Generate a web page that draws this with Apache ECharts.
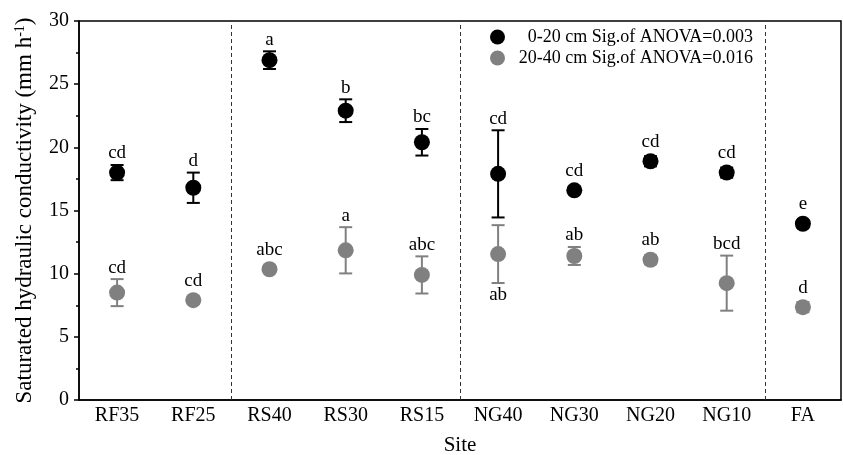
<!DOCTYPE html>
<html>
<head>
<meta charset="utf-8">
<script src="https://cdn.jsdelivr.net/npm/echarts@6/dist/echarts.min.js"></script>
<style>
  html, body { margin: 0; padding: 0; background: #fff; }
  #main { width: 843px; height: 455px; }
</style>
</head>
<body>
<div id="main"></div>
<script>
"use strict";

// sites along the x axis
var sites = ['RF35', 'RF25', 'RS40', 'RS30', 'RS15', 'NG40', 'NG30', 'NG20', 'NG10', 'FA'];
// first site of each new group (dashed separators go before these)
var groupStarts = ['RS40', 'NG40', 'FA'];

var seriesNames = ['0-20 cm Sig.of ANOVA=0.003', '20-40 cm Sig.of ANOVA=0.016'];

// 0-20 cm layer
var topMean = [18.0, 16.8, 26.9, 22.9, 20.4, 17.9, 16.6, 18.9, 18.0, 13.95];
var topErr = [0.6, 1.2, 0.7, 0.9, 1.05, 3.45, 0.3, 0.4, 0.4, 0.3];
var topLetters = ['cd', 'd', 'a', 'b', 'bc', 'cd', 'cd', 'cd', 'cd', 'e'];

// 20-40 cm layer
var subMean = [8.5, 7.9, 10.35, 11.85, 9.9, 11.55, 11.4, 11.1, 9.25, 7.35];
var subErr = [1.07, 0.3, 0.3, 1.83, 1.47, 2.29, 0.71, 0.35, 2.18, 0.4];
var subLetters = ['cd', 'cd', 'abc', 'a', 'abc', 'ab', 'ab', 'ab', 'bcd', 'd'];

var yMin = 0, yMax = 30, yStep = 5;

var FONT = '"Liberation Serif", "Times New Roman", serif';
var BLACK = '#000000';
var GREY = '#808080';

var myChart = echarts.init(document.getElementById('main'));

// error bar + significance letter for each point
function errorBars(means, errs, letters, color, lettersBelow) {
    return {
        type: 'custom',
        xAxisIndex: 2,
        z: 1,
        silent: true,
        data: means.map(function (m, i) { return [i, m, errs[i]]; }),
        renderItem: function (params, api) {
            var i = api.value(0), m = api.value(1), e = api.value(2);
            var c = api.coord([i, m]);
            var hi = api.coord([i, m + e]);
            var lo = api.coord([i, m - e]);
            var half = 6.5;
            var st = { stroke: color, lineWidth: 2 };
            var below = lettersBelow.indexOf(sites[i]) >= 0;
            var ty = below ? Math.max(lo[1], c[1] + 8) + 3 : Math.min(hi[1], c[1] - 8) - 2;
            return {
                type: 'group',
                children: [
                    { type: 'line', shape: { x1: c[0], y1: hi[1], x2: c[0], y2: lo[1] }, style: st },
                    { type: 'line', shape: { x1: c[0] - half, y1: hi[1], x2: c[0] + half, y2: hi[1] }, style: st },
                    { type: 'line', shape: { x1: c[0] - half, y1: lo[1], x2: c[0] + half, y2: lo[1] }, style: st },
                    {
                        type: 'text', x: c[0], y: ty,
                        style: {
                            text: letters[i], fill: '#000', fontFamily: FONT, fontSize: 19,
                            align: 'center', verticalAlign: below ? 'top' : 'bottom'
                        }
                    }
                ]
            };
        }
    };
}

var option = {
    animation: false,
    backgroundColor: '#fff',
    grid: {
        left: 79, right: 2, top: 21, bottom: 55,
        outerBoundsMode: 'none',
        containLabel: false,
        show: true, borderColor: '#000', borderWidth: 1.5, backgroundColor: 'transparent'
    },
    legend: {
        data: seriesNames,
        orient: 'vertical',
        left: 485, top: 23,
        itemWidth: 15, itemHeight: 15, itemGap: 3,
        icon: 'circle',
        formatter: function (name) { return '{t|' + name + '}'; },
        textStyle: {
            fontFamily: FONT, fontSize: 18, color: '#000',
            rich: { t: { fontFamily: FONT, fontSize: 18, color: '#000', width: 243, align: 'right' } }
        }
    },
    xAxis: [{
        type: 'category',
        data: sites,
        position: 'bottom',
        axisLine: { onZero: false, lineStyle: { color: '#000', width: 1.5 } },
        axisTick: { alignWithLabel: true, interval: 0, length: 6, lineStyle: { color: '#000', width: 1.5 } },
        axisLabel: { interval: 0, margin: 6, fontFamily: FONT, fontSize: 20, color: '#000' },
        splitLine: { show: false },
        name: 'Site',
        nameLocation: 'middle',
        nameGap: 35,
        nameTextStyle: { fontFamily: FONT, fontSize: 21, color: '#000' }
    }, {
        type: 'category',
        data: sites,
        position: 'bottom',
        axisLine: { show: false, onZero: false },
        axisTick: { interval: 0, length: 3, lineStyle: { color: '#000', width: 1.5 } },
        axisLabel: { show: false },
        splitLine: { show: false }
    }, {
        type: 'value',
        position: 'bottom',
        show: false,
        axisLine: { onZero: false },
        min: -0.5,
        max: sites.length - 0.5
    }],
    yAxis: {
        type: 'value',
        min: yMin, max: yMax, interval: yStep,
        axisLine: { show: true, onZero: false, lineStyle: { color: '#000', width: 1.5 } },
        axisTick: { show: true, length: 5, lineStyle: { color: '#000', width: 1.5 } },
        minorTick: { show: true, splitNumber: 2, length: 3, lineStyle: { color: '#000', width: 1.5 } },
        splitLine: { show: false },
        minorSplitLine: { show: false },
        axisLabel: { margin: 10, fontFamily: FONT, fontSize: 20, color: '#000' },
        name: 'Saturated hydraulic conductivity (mm h{sup|-1})',
        nameLocation: 'middle',
        nameGap: 42,
        nameTextStyle: {
            fontFamily: FONT, fontSize: 23, color: '#000',
            rich: { sup: { fontFamily: FONT, fontSize: 14, color: '#000', verticalAlign: 'top', padding: [0, 0, 10, 0] } }
        }
    },
    series: [
        errorBars(topMean, topErr, topLetters, BLACK, []),
        errorBars(subMean, subErr, subLetters, GREY, ['NG40']),
        {
            name: seriesNames[0],
            type: 'scatter',
            xAxisIndex: 2,
            z: 3,
            symbol: 'circle',
            symbolSize: 16,
            itemStyle: { color: BLACK, opacity: 1 },
            data: topMean.map(function (m, i) { return [i, m]; }),
            markLine: {
                silent: true,
                symbol: 'none',
                label: { show: false },
                lineStyle: { type: [4, 3], color: '#333', width: 1 },
                data: groupStarts.map(function (s) { return { xAxis: sites.indexOf(s) - 0.5 }; })
            }
        },
        {
            name: seriesNames[1],
            type: 'scatter',
            xAxisIndex: 2,
            z: 3,
            symbol: 'circle',
            symbolSize: 16,
            itemStyle: { color: GREY, opacity: 1 },
            data: subMean.map(function (m, i) { return [i, m]; })
        }
    ]
};

myChart.setOption(option);
</script>
</body>
</html>
